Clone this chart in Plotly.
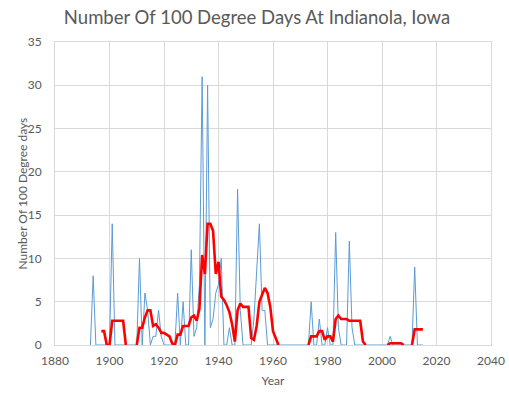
import plotly.graph_objects as go

# Años y días >= 100°F en Indianola, Iowa
years = list(range(1893, 2016))
days_100 = [
    0, 8, 0, 0, 0, 0, 0,                 # 1893-1899
    0, 14, 0, 0, 0, 0, 0, 0, 0, 0,       # 1900s
    0, 10, 0, 6, 4, 0, 1, 1, 4, 1,       # 1910s
    0, 0, 0, 0, 0, 6, 0, 5, 0, 0,        # 1920s
    11, 1, 2, 7, 31, 0, 30, 2, 3, 6,     # 1930s
    7, 10, 0, 0, 2, 0, 0, 18, 4, 0,      # 1940s
    0, 0, 0, 3, 8, 14, 4, 4, 0, 0,       # 1950s
    0, 0, 0, 0, 0, 0, 0, 0, 0, 0,        # 1960s
    0, 0, 0, 0, 5, 0, 0, 3, 0, 0,        # 1970s
    2, 0, 0, 13, 2, 0, 0, 0, 12, 2,      # 1980s
    0, 0, 0, 0, 0, 0, 0, 0, 0, 0,        # 1990s
    0, 0, 0, 1, 0, 0, 0, 0, 0, 0,        # 2000s
    0, 0, 9, 0, 0, 0,                    # 2010-2015
]

# Promedio móvil (línea roja); None = tramo sin línea
avg_years = list(range(1897, 2016))
avg_5yr = [
    1.6, 1.6, 0,                                          # 1897-1899
    0, 2.8, 2.8, 2.8, 2.8, 2.8, 0, None, None, None,      # 1900s
    0, 2.0, 2.0, 3.2, 4.0, 4.0, 2.2, 2.4, 2.0, 1.4,       # 1910s
    1.4, 1.2, 1.0, 0.2, 0, 1.2, 1.2, 2.2, 2.2, 2.2,       # 1920s
    3.2, 3.4, 2.8, 4.2, 10.4, 8.2, 14.0, 14.0, 13.2, 8.2, # 1930s
    9.6, 5.6, 5.2, 4.6, 3.8, 2.4, 0.4, 4.0, 4.8, 4.4,     # 1940s
    4.4, 4.4, 0.8, 0.6, 2.2, 5.0, 5.8, 6.6, 6.0, 4.4,     # 1950s
    1.6, 0.8, 0, None, None, None, None, None, None, None,  # 1960s
    None, None, None, 0, 1.0, 1.0, 1.0, 1.6, 1.6, 0.6,    # 1970s
    1.0, 1.0, 0.4, 3.0, 3.4, 3.0, 3.0, 3.0, 2.8, 2.8,     # 1980s
    2.8, 2.8, 2.8, 0.4, 0, None, None, None, None, None,  # 1990s
    None, None, 0, 0.2, 0.2, 0.2, 0.2, 0.2, 0, None,      # 2000s
    None, 0, 1.8, 1.8, 1.8, 1.8,                          # 2010-2015
]

x_ticks = [1880, 1900, 1920, 1940, 1960, 1980, 2000, 2020, 2040]
y_ticks = [0, 5, 10, 15, 20, 25, 30, 35]

GRAY_TXT = "#595959"
GRID = "#D9D9D9"

fig = go.Figure()
fig.add_trace(go.Scatter(
    x=years, y=days_100, mode="lines", name="Days",
    line=dict(color="#5B9BD5", width=1),
))
fig.add_trace(go.Scatter(
    x=avg_years, y=avg_5yr, mode="lines", name="Average",
    line=dict(color="#FF0000", width=2.6),
))

# título del eje Y como anotación, para fijar su posición
fig.add_annotation(
    text="Number Of 100 Degree days",
    xref="paper", yref="paper", x=0, y=0.5,
    xshift=-33, textangle=-90, showarrow=False,
    xanchor="center", yanchor="middle",
    font=dict(size=12, color=GRAY_TXT),
)

fig.update_layout(
    width=509,
    height=400,
    showlegend=False,
    paper_bgcolor="white",
    plot_bgcolor="white",
    font=dict(family="Lato, 'Open Sans', sans-serif", color=GRAY_TXT, size=12),
    title=dict(
        text="Number Of 100 Degree Days At Indianola, Iowa",
        x=0.505, xref="container", xanchor="center",
        y=0.957, yref="container", yanchor="middle",
        font=dict(size=18.5, color=GRAY_TXT),
    ),
    margin=dict(l=55, r=18, t=42, b=55),
    xaxis=dict(
        range=[1880, 2040],
        tickvals=x_ticks,
        automargin=False,
        showgrid=True, gridcolor=GRID, gridwidth=1,
        zeroline=False,
        showline=True, linecolor=GRID, mirror=True,
        ticks="", ticklabelstandoff=5,
        title=dict(text="Year", font=dict(size=12, color=GRAY_TXT), standoff=9),
    ),
    yaxis=dict(
        range=[0, 35],
        tickvals=y_ticks,
        automargin=False,
        showgrid=True, gridcolor=GRID, gridwidth=1,
        zeroline=False,
        showline=True, linecolor=GRID, mirror=True,
        ticks="", ticklabelstandoff=10,
    ),
)

# sin margen del <body>, para que la figura quede en (0, 0)
fig.write_html(
    "out.html",
    config={"displayModeBar": False},
    post_script="document.body.style.margin='0';",
)
